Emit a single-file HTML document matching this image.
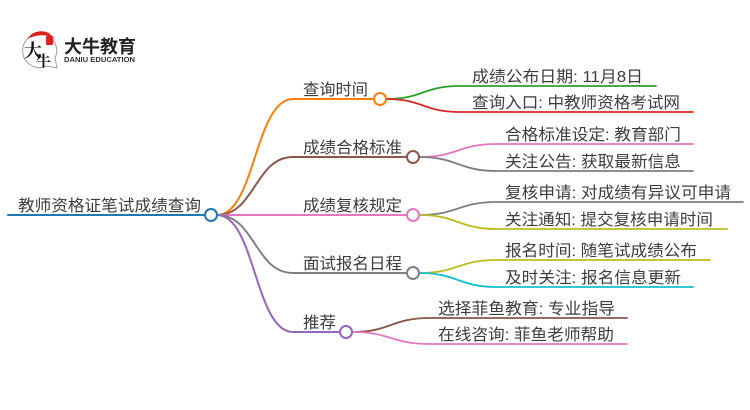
<!DOCTYPE html>
<html><head><meta charset="utf-8"><style>
html,body{margin:0;padding:0;background:#fff;}
svg{display:block;}
text{font-family:"Liberation Sans","Noto Sans CJK SC",sans-serif;fill:#3d3d3d;}
</style></head><body>
<svg width="750" height="410" viewBox="0 0 750 410" xmlns="http://www.w3.org/2000/svg">
<!-- logo -->
<g>
  <path d="M47,66 A17,17 0 1 1 55,58 L57,68 Z" fill="#fff" stroke="#a0a0a0" stroke-width="1"/>
  <path d="M27,39 A17,17 0 0 1 54,38 Q41,32 27,39 Z" fill="#d9241c"/>
  <path d="M30,35 Q40,28 51,34 Q40,31 30,35 Z" fill="#d9241c"/>
  <rect x="46" y="36" width="7" height="9" fill="#d9241c" rx="1"/>
  <text x="24" y="57" style="font-family:'Noto Serif CJK SC',serif;font-size:18px;font-weight:bold;fill:#111;">大</text>
  <text x="36" y="66" style="font-family:'Noto Serif CJK SC',serif;font-size:15px;font-weight:bold;fill:#111;">牛</text>
  <text x="64" y="53" textLength="72" lengthAdjust="spacingAndGlyphs" style="font-size:18px;font-weight:bold;fill:#222;">大牛教育</text>
  <text x="64" y="62" textLength="71" lengthAdjust="spacingAndGlyphs" style="font-size:7px;font-weight:bold;fill:#333;">DANIU EDUCATION</text>
</g>

<g fill="none" stroke-linecap="round">
  <!-- root -->
  <line x1="8" y1="215" x2="205" y2="215" stroke="#1f77b4" stroke-width="2"/>
  <!-- branches -->
  <path d="M217,215 C255,215 255,99 293,99 L374,99" stroke="#ff7f0e" stroke-width="2"/>
  <path d="M217,215 C255,215 255,157 293,157 L407,157" stroke="#8c564b" stroke-width="2"/>
  <path d="M217,215 L407,215" stroke="#e377c2" stroke-width="2"/>
  <path d="M217,215 C255,215 255,273 293,273 L407,273" stroke="#7f7f7f" stroke-width="2"/>
  <path d="M217,215 C255,215 255,332 293,332 L340,332" stroke="#9467bd" stroke-width="2"/>
  <!-- leaves -->
  <path d="M386,99 C423,99 423,86 460,86 L656,86" stroke="#2ca02c" stroke-width="1.8"/>
  <path d="M386,99 C423,99 423,112 460,112 L693,112" stroke="#d62728" stroke-width="1.8"/>
  <path d="M419,157 C458,157 458,144 497,144 L693,144" stroke="#e377c2" stroke-width="1.8"/>
  <path d="M419,157 C458,157 458,171 497,171 L693,171" stroke="#7f7f7f" stroke-width="1.8"/>
  <path d="M419,215 C458,215 458,202 497,202 L743,202" stroke="#7f7f7f" stroke-width="1.8"/>
  <path d="M419,215 C458,215 458,229 497,229 L727,229" stroke="#bcbd22" stroke-width="1.8"/>
  <path d="M419,273 C458,273 458,260 497,260 L710,260" stroke="#bcbd22" stroke-width="1.8"/>
  <path d="M419,273 C458,273 458,287 497,287 L693,287" stroke="#17becf" stroke-width="1.8"/>
  <path d="M352,332 C391,332 391,318 430,318 L627,318" stroke="#8c564b" stroke-width="1.8"/>
  <path d="M352,332 C391,332 391,344 430,344 L627,344" stroke="#e377c2" stroke-width="1.8"/>
</g>
<!-- circles -->
<g fill="#fff" stroke-width="2">
  <circle cx="211" cy="215" r="6" stroke="#1f77b4"/>
  <circle cx="380" cy="99" r="6" stroke="#ff7f0e"/>
  <circle cx="413" cy="157" r="6" stroke="#8c564b"/>
  <circle cx="413" cy="215" r="6" stroke="#e377c2"/>
  <circle cx="413" cy="273" r="6" stroke="#7f7f7f"/>
  <circle cx="346" cy="332" r="6" stroke="#9467bd"/>
</g>
<!-- texts -->
<g style="font-size:16px;">
  <text x="18" y="211" textLength="183" lengthAdjust="spacingAndGlyphs">教师资格证笔试成绩查询</text>
  <text x="303" y="95" textLength="65" lengthAdjust="spacingAndGlyphs">查询时间</text>
  <text x="303" y="153" textLength="99" lengthAdjust="spacingAndGlyphs">成绩合格标准</text>
  <text x="303" y="211" textLength="99" lengthAdjust="spacingAndGlyphs">成绩复核规定</text>
  <text x="303" y="269" textLength="99" lengthAdjust="spacingAndGlyphs">面试报名日程</text>
  <text x="303" y="328" textLength="33" lengthAdjust="spacingAndGlyphs">推荐</text>

  <text x="472" y="82" textLength="171" lengthAdjust="spacingAndGlyphs">成绩公布日期: 11月8日</text>
  <text x="472" y="108" textLength="208" lengthAdjust="spacingAndGlyphs">查询入口: 中教师资格考试网</text>
  <text x="505" y="140" textLength="176" lengthAdjust="spacingAndGlyphs">合格标准设定: 教育部门</text>
  <text x="505" y="167" textLength="176" lengthAdjust="spacingAndGlyphs">关注公告: 获取最新信息</text>
  <text x="505" y="198" textLength="226" lengthAdjust="spacingAndGlyphs">复核申请: 对成绩有异议可申请</text>
  <text x="505" y="225" textLength="208" lengthAdjust="spacingAndGlyphs">关注通知: 提交复核申请时间</text>
  <text x="505" y="256" textLength="192" lengthAdjust="spacingAndGlyphs">报名时间: 随笔试成绩公布</text>
  <text x="505" y="283" textLength="176" lengthAdjust="spacingAndGlyphs">及时关注: 报名信息更新</text>
  <text x="438" y="314" textLength="177" lengthAdjust="spacingAndGlyphs">选择菲鱼教育: 专业指导</text>
  <text x="438" y="340" textLength="176" lengthAdjust="spacingAndGlyphs">在线咨询: 菲鱼老师帮助</text>
</g>
</svg>
</body></html>
